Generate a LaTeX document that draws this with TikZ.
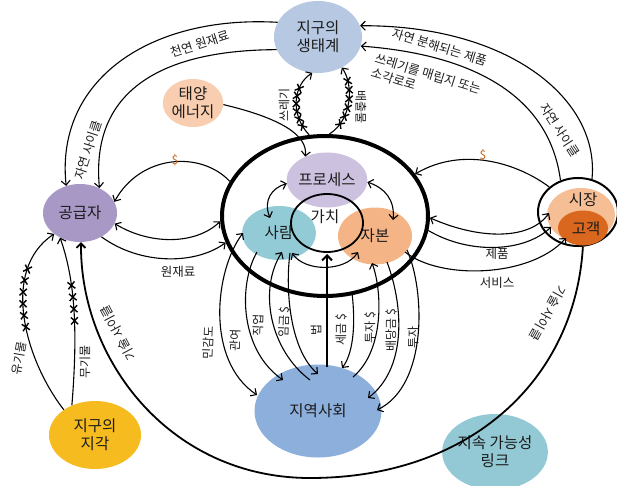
\documentclass[tikz,border=0pt]{standalone}
\usepackage{fontspec}
\setmainfont{Noto Sans CJK KR}
\usetikzlibrary{shapes.geometric,arrows.meta,decorations.markings}

\definecolor{ink}{HTML}{1C1C1C}
\definecolor{ecoC}{HTML}{B7C9E2}
\definecolor{sunC}{HTML}{F9CDAF}
\definecolor{supC}{HTML}{A898C6}
\definecolor{crustC}{HTML}{F6BB1E}
\definecolor{commC}{HTML}{8CAFDB}
\definecolor{linkC}{HTML}{93C9D4}
\definecolor{procC}{HTML}{CCC1DE}
\definecolor{pplC}{HTML}{92CAD6}
\definecolor{capC}{HTML}{F4B485}
\definecolor{sijC}{HTML}{F6BE94}
\definecolor{custC}{HTML}{D9681E}
\definecolor{dollarC}{HTML}{C0651E}

\begin{document}
\begin{tikzpicture}[x=1pt,y=1pt,
  >={Straight Barb[length=4.5pt,width=9pt]},
  every node/.style={text=ink},
  blob/.style={ellipse, inner sep=0pt, align=center, font=\fontsize{15.5}{18}\selectfont},
  ring/.style={ellipse, draw, inner sep=0pt},
  lab/.style={font=\fontsize{12.5}{15}\selectfont, inner sep=1pt, align=left},
  small/.style={font=\fontsize{12}{14}\selectfont, inner sep=1pt},
  dollar/.style={font=\fontsize{12}{14}\selectfont, text=dollarC, inner sep=1pt},
  con/.style={line width=1.1pt},
  xmarks/.style n args={3}{postaction={decorate,decoration={markings,
      mark=between positions #1 and #2 step #3 with
      {\draw[line width=1.4pt,-] (-3.5pt,-3.5pt)--(3.5pt,3.5pt) (-3.5pt,3.5pt)--(3.5pt,-3.5pt);}}}}
]
\useasboundingbox (0,0) rectangle (617,-486);

% ---- outer entities ----
\node[blob, fill=ecoC, minimum width=88pt, minimum height=72pt] (eco) at (318,-37) {지구의\\생태계};
\node[blob, fill=sunC, minimum width=60pt, minimum height=48pt] (sun) at (193,-103) {태양\\에너지};
\node[blob, fill=supC, minimum width=74pt, minimum height=58pt] (sup) at (80,-213) {공급자};
\node[blob, fill=crustC, minimum width=92pt, minimum height=68pt] (crust) at (95,-435) {지구의\\지각};
\node[blob, fill=commC, minimum width=127pt, minimum height=93pt] (comm) at (318,-411) {지역사회};
\node[blob, fill=linkC, minimum width=96pt, minimum height=76pt] (link) at (495,-452) {지속 가능성\\링크};

% ---- the firm ----
\node[ring, line width=4pt, minimum width=206pt, minimum height=160pt] (big) at (325,-216) {};
\node[blob, fill=procC, minimum width=70pt, minimum height=55pt] (proc) at (327,-180) {프로세스};
\node[blob, fill=pplC, minimum width=74pt, minimum height=54pt] (ppl) at (279,-233) {사람};
\node[blob, fill=capC, minimum width=74pt, minimum height=57pt] (cap) at (375,-236) {자본};
\node[ring, line width=1.8pt, minimum width=72pt, minimum height=58pt] (val) at (327,-223) {};
\node[blob] (valT) at (325,-217) {가치};

% ---- market ----
\node[ring, line width=2pt, fill=white, minimum width=80pt, minimum height=68pt] (mkt) at (578,-212) {};
\node[ellipse, fill=sijC, inner sep=0pt, minimum width=68pt, minimum height=54pt] (sij) at (581,-215) {};
\node[ellipse, fill=custC, inner sep=0pt, minimum width=50pt, minimum height=35pt] (cust) at (583,-228) {};
\node[blob] (sijT) at (583,-200) {시장};
\node[blob] (custT) at (586,-229) {고객};

% ---- natural cycle, left ----
\draw[con,->] (eco.160) .. controls (150,-15) and (55,-80) .. (sup.117);
\draw[con,->] (eco.197) .. controls (170,-50) and (90,-85) .. (sup.52);
\node[lab, rotate=18] (lRaw) at (200,-44) {천연 원재료};
\node[lab, rotate=72] (lNatL) at (88,-150) {자연 사이클};

% ---- natural cycle, right ----
\draw[con,->] (mkt.67) .. controls (600,-100) and (510,-25) .. (eco.15);
\draw[con,->] (mkt.119) .. controls (550,-100) and (480,-55) .. (eco.-12);
\node[lab, rotate=-17] (lBio) at (440,-47) {자연 분해되는 제품};
\node[lab, rotate=-17, anchor=north west] (lLand) at (377,-51) {쓰레기를 매립지 또는\\소각로로};
\node[lab, rotate=-57] (lNatR) at (560,-130) {자연 사이클};

% ---- solar energy ----
\draw[con,->] (sun.-3) .. controls (280,-118) and (308,-135) .. (proc.133);

% ---- waste and emissions ----
\draw[con,->,xmarks={0.16}{0.8}{0.11}] (big.101) .. controls (290,-115) and (293,-85) .. (eco.261);
\draw[con,->,xmarks={0.2}{0.8}{0.12}] (big.87) .. controls (352,-120) and (354,-85) .. (eco.-52);
\node[small, rotate=90] (lWaste) at (284,-105) {쓰레기};
\node[small, rotate=-90] (lEmit) at (361,-107) {배출물};

% ---- supplier and firm ----
\draw[con,->] (big.160) .. controls (200,-150) and (140,-155) .. (sup.18);
\node[dollar] (dL) at (175,-160) {\$};
\draw[con,<->] (sup.-17) .. controls (150,-245) and (195,-245) .. (big.183);
\draw[con,->] (sup.-48) .. controls (140,-265) and (195,-265) .. (big.195);
\node[lab] (lRawB) at (178,-272) {원재료};

% ---- firm and market ----
\draw[con,->] (mkt.139) .. controls (520,-165) and (465,-145) .. (big.25);
\node[dollar] (dR) at (483,-155) {\$};
\draw[con,<->] (big.-1) .. controls (480,-240) and (530,-240) .. ([shift={(-32,2)}]sij.center);
\draw[con,->] (big.-8) .. controls (470,-255) and (525,-252) .. ([shift={(-30,-12)}]sij.center);
\draw[con,->] ([shift={(30,-16)}]cap.center) .. controls (440,-280) and (530,-278) .. ([shift={(-17,-10)}]cust.center);
\node[lab] (lProd) at (497,-254) {제품};
\node[lab] (lServ) at (497,-283) {서비스};

% ---- technical cycle ----
\draw[line width=1.8pt,->] (mkt.-82) .. controls (575,-380) and (470,-478) .. (310,-478)
      .. controls (170,-478) and (80,-360) .. (sup.-88);
\node[lab, rotate=118] (lTechL) at (118,-333) {기술 사이클};
\node[lab, rotate=-119] (lTechR) at (548,-313) {기술 사이클};

% ---- earth's crust to supplier ----
\draw[con,->,xmarks={0.47}{0.78}{0.06}] (crust.141) .. controls (25,-360) and (0,-270) .. (sup.219);
\draw[con,->,xmarks={0.5}{0.73}{0.07}] (crust.128) .. controls (78,-330) and (75,-280) .. (sup.231);
\node[small, rotate=80] (lOrg) at (19,-358) {유기물};
\node[small, rotate=90] (lInorg) at (85,-362) {무기물};

% ---- inside the firm ----
\draw[con,<->] (proc.185) .. controls (272,-188) and (263,-200) .. ([shift={(-9,15)}]ppl.center);
\draw[con,<->] (proc.-3) .. controls (385,-188) and (395,-200) .. ([shift={(18,16)}]cap.center);
\draw[con,<->] ([shift={(13,-20)}]ppl.center) .. controls (305,-272) and (345,-272) .. ([shift={(-17,-16)}]cap.center);

% ---- firm and community ----
\draw[con,<->] ([shift={(-36,0)}]ppl.center) .. controls (215,-270) and (205,-360) .. ([shift={(-61,16)}]comm.center);
\draw[con,->] ([shift={(-22,-19)}]ppl.center) .. controls (238,-285) and (240,-350) .. ([shift={(-35,31)}]comm.center);
\draw[con,->] ([shift={(-8,31)}]comm.center) .. controls (270,-350) and (258,-290) .. ([shift={(3,-19)}]ppl.center);
\draw[con,->] ([shift={(11,-20)}]ppl.center) .. controls (285,-290) and (290,-350) .. ([shift={(0,37)}]comm.center);
\draw[line width=2pt,-{Straight Barb[length=5pt,width=10pt]}] ([shift={(9,44)}]comm.center) -- ([shift={(9,44)}]comm.center |- big.south);
\draw[con,->] (big.-71) .. controls (356,-330) and (352,-355) .. ([shift={(24,43)}]comm.center);
\draw[con,->] ([shift={(35,34)}]comm.center) .. controls (385,-350) and (382,-290) .. ([shift={(-3,-27)}]cap.center);
\draw[con,->] ([shift={(12,-26)}]cap.center) .. controls (405,-310) and (405,-370) .. ([shift={(50,13)}]comm.center);
\draw[con,->] ([shift={(32,-14)}]cap.center) .. controls (425,-290) and (428,-385) .. ([shift={(59,1)}]comm.center);

\node[small, rotate=88] (lSens) at (208,-343) {민감도};
\node[small, rotate=88] (lRel) at (235,-340) {관여};
\node[small, rotate=88] (lJob) at (258,-325) {직업};
\node[small, rotate=88] (lWage) at (284,-322) {임금 \$};
\node[small, rotate=90] (lLaw) at (316,-330) {법};
\node[small, rotate=90] (lTax) at (341,-330) {세금 \$};
\node[small, rotate=90] (lInv) at (370,-328) {투자 \$};
\node[small, rotate=90] (lDiv) at (391,-330) {배당금 \$};
\node[small, rotate=90] (lInv2) at (413,-337) {투자};
\end{tikzpicture}
\end{document}
